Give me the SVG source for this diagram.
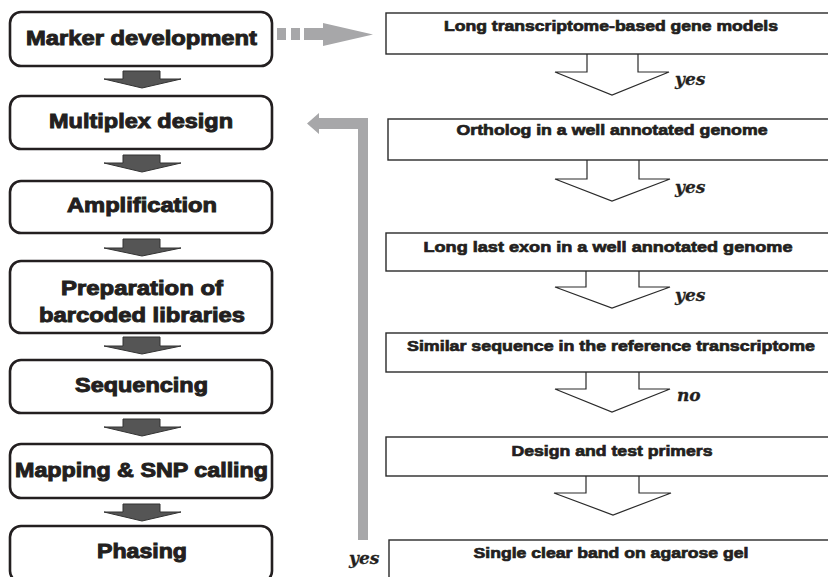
<svg xmlns="http://www.w3.org/2000/svg" width="828" height="577" viewBox="0 0 828 577">
<style>
.lbox{fill:#fff;stroke:#231f20;stroke-width:2.6}
.rbox{fill:#fff;stroke:#2a2a2a;stroke-width:1.4}
.lt{font-family:"Liberation Sans",Arial,sans-serif;font-weight:bold;font-size:21px;fill:#231f20;stroke:#231f20;stroke-width:1;text-anchor:middle}
.rt{font-family:"Liberation Sans",Arial,sans-serif;font-weight:bold;font-size:15px;fill:#231f20;stroke:#231f20;stroke-width:0.7;text-anchor:middle}
.yn{font-family:"DejaVu Serif",serif;font-weight:bold;font-style:italic;font-size:17px;fill:#231f20;stroke:#231f20;stroke-width:0.3}
.dark{fill:#555;stroke:#333;stroke-width:1}
.notch{fill:#fff;stroke:#2a2a2a;stroke-width:1.2}
.gray{fill:#a7a7a9}
</style>
<rect width="828" height="577" fill="#fff"/>
<g id="connectors">
  <polygon class="dark" points="123,71 160,71 160,79 181,79 142,88 104,79 123,79"/>
  <polygon class="dark" points="123,155 160,155 160,163 181,163 142,172 104,163 123,163"/>
  <polygon class="dark" points="123,239 160,239 160,248 181,248 142,256 104,248 123,248"/>
  <polygon class="dark" points="123,337 160,337 160,346 181,346 142,354 104,346 123,346"/>
  <polygon class="dark" points="123,419 160,419 160,427 181,427 142,436 104,427 123,427"/>
  <polygon class="dark" points="123,504 160,504 160,512 181,512 142,521 104,512 123,512"/>
  <g id="dashed-arrow" class="gray">
    <rect x="277" y="28" width="9" height="12"/>
    <rect x="291" y="28" width="9" height="12"/>
    <rect x="304" y="28" width="21" height="12"/>
    <polygon points="323,23 373,34.5 323,46"/>
  </g>
  <g id="return-arrow" class="gray">
    <polygon points="358,540 368,540 368,118 319,118 319,113 307,123.5 319,134 319,129 358,129"/>
  </g>
  <polyline class="notch" points="587,54 587,72 555,72 612,95 669,72 638,72 638,54"/>
  <polyline class="notch" points="587,160 587,179 555,179 612,201 670,179 639,179 639,160"/>
  <polyline class="notch" points="586,271 586,287 555,287 612,308 670,287 639,287 639,271"/>
  <polyline class="notch" points="586,372 586,389 555,389 612,412 670,389 639,389 639,372"/>
  <polyline class="notch" points="586,476 586,493 554,493 613,515 671,493 639,493 639,476"/>
  <text class="yn" x="675" y="85">yes</text>
  <text class="yn" x="675" y="193">yes</text>
  <text class="yn" x="675" y="301">yes</text>
  <text class="yn" x="677" y="401">no</text>
  <text class="yn" x="349" y="564">yes</text>
</g>
<g id="marker-development"><rect class="lbox" x="10" y="12" width="262" height="54" rx="11"/><text class="lt" x="141.5" y="45" textLength="231" lengthAdjust="spacingAndGlyphs">Marker development</text></g>
<g id="multiplex-design"><rect class="lbox" x="10" y="96" width="262" height="53" rx="11"/><text class="lt" x="141" y="128" textLength="184" lengthAdjust="spacingAndGlyphs">Multiplex design</text></g>
<g id="amplification"><rect class="lbox" x="10" y="181" width="262" height="52" rx="11"/><text class="lt" x="142" y="212" textLength="150" lengthAdjust="spacingAndGlyphs">Amplification</text></g>
<g id="preparation"><rect class="lbox" x="10" y="261" width="262" height="72" rx="11"/><text class="lt" x="142" y="295" textLength="162" lengthAdjust="spacingAndGlyphs">Preparation of</text><text class="lt" x="142" y="322" textLength="206" lengthAdjust="spacingAndGlyphs">barcoded libraries</text></g>
<g id="sequencing"><rect class="lbox" x="10" y="360" width="262" height="53" rx="11"/><text class="lt" x="141.5" y="392" textLength="133" lengthAdjust="spacingAndGlyphs">Sequencing</text></g>
<g id="mapping"><rect class="lbox" x="10" y="444" width="262" height="54" rx="11"/><text class="lt" x="141.5" y="477" textLength="253" lengthAdjust="spacingAndGlyphs">Mapping &amp; SNP calling</text></g>
<g id="phasing"><rect class="lbox" x="10" y="526" width="262" height="56" rx="11"/><text class="lt" x="142" y="558" textLength="90" lengthAdjust="spacingAndGlyphs">Phasing</text></g>
<g id="long-transcriptome"><rect class="rbox" x="386" y="13" width="460" height="41"/><text class="rt" x="611" y="31" textLength="334" lengthAdjust="spacingAndGlyphs">Long transcriptome-based gene models</text></g>
<g id="ortholog"><rect class="rbox" x="388" y="119" width="460" height="41"/><text class="rt" x="612" y="135" textLength="311" lengthAdjust="spacingAndGlyphs">Ortholog in a well annotated genome</text></g>
<g id="long-last-exon"><rect class="rbox" x="386" y="233" width="460" height="38"/><text class="rt" x="608" y="252" textLength="369" lengthAdjust="spacingAndGlyphs">Long last exon in a well annotated genome</text></g>
<g id="similar-sequence"><rect class="rbox" x="386" y="333" width="460" height="39"/><text class="rt" x="611" y="351" textLength="408" lengthAdjust="spacingAndGlyphs">Similar sequence in the reference transcriptome</text></g>
<g id="design-primers"><rect class="rbox" x="386" y="437" width="460" height="39"/><text class="rt" x="612" y="456" textLength="201" lengthAdjust="spacingAndGlyphs">Design and test primers</text></g>
<g id="single-band"><rect class="rbox" x="389" y="540" width="460" height="60"/><text class="rt" x="611" y="558" textLength="275" lengthAdjust="spacingAndGlyphs">Single clear band on agarose gel</text></g>
</svg>
